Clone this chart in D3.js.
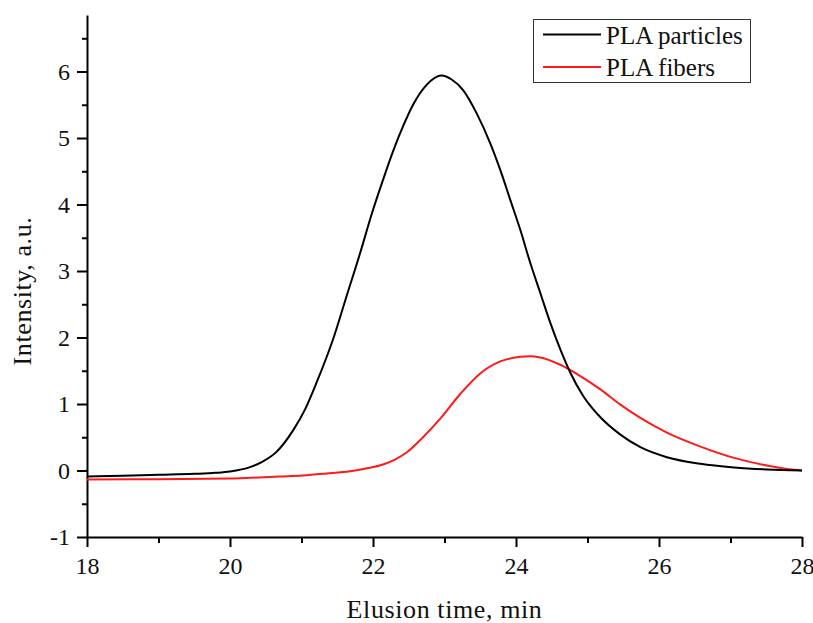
<!DOCTYPE html>
<html>
<head>
<meta charset="utf-8">
<script src="https://cdn.jsdelivr.net/npm/d3@7"></script>
<style>
  body { margin: 0; background: #fff; }
  text { font-family: "Liberation Serif", "Times New Roman", serif; fill: #111; }
</style>
</head>
<body>
<div class="main-graph"></div>
<script>
// data
var particlesTime = [18, 18.5, 19, 19.5, 19.8, 20.0, 20.28, 20.45, 20.65, 20.88, 21.05, 21.21, 21.45, 21.63, 21.82, 21.98, 22.14, 22.28, 22.43, 22.56, 22.75, 22.96, 23.1, 23.26, 23.45, 23.64, 23.78, 23.92, 24.06, 24.2, 24.34, 24.48, 24.62, 24.76, 24.94, 25.18, 25.46, 25.74, 26.11, 26.58, 27.05, 27.51, 28];
var particlesInt  = [-0.09, -0.08, -0.065, -0.05, -0.035, -0.015, 0.05, 0.13, 0.28, 0.6, 0.92, 1.32, 2.0, 2.62, 3.27, 3.85, 4.37, 4.8, 5.2, 5.5, 5.8, 5.94, 5.88, 5.72, 5.37, 4.92, 4.52, 4.07, 3.62, 3.12, 2.67, 2.22, 1.82, 1.47, 1.12, 0.8, 0.54, 0.35, 0.2, 0.1, 0.045, 0.015, 0.0];

var fibersTime = [18, 19, 20, 20.28, 20.7, 21.02, 21.35, 21.68, 21.9, 22.14, 22.3, 22.47, 22.7, 22.94, 23.22, 23.5, 23.78, 24.06, 24.2, 24.34, 24.62, 24.9, 25.18, 25.46, 25.74, 26.11, 26.58, 27.05, 27.51, 27.89, 28];
var fibersInt  = [-0.135, -0.13, -0.12, -0.11, -0.09, -0.075, -0.045, -0.01, 0.03, 0.09, 0.16, 0.27, 0.5, 0.78, 1.15, 1.46, 1.64, 1.71, 1.72, 1.70, 1.59, 1.42, 1.22, 0.99, 0.79, 0.57, 0.36, 0.19, 0.075, 0.01, 0.0];

var xTicks = [18, 20, 22, 24, 26, 28];
var yTicks = [-1, 0, 1, 2, 3, 4, 5, 6];
var seriesNames = ["PLA particles", "PLA fibers"];
var seriesColors = ["#000000", "#ff1a1a"];

var margin = {top: 15, right: 11, bottom: 86, left: 87},
    width = 813 - margin.left - margin.right,
    height = 623 - margin.top - margin.bottom;

var svg = d3.select(".main-graph")
            .append("svg")
            .attr("width", 813)
            .attr("height", 623)
            .append("g")
            .attr("transform", "translate(" + margin.left + "," + margin.top + ")");

var x = d3.scaleLinear().domain([18, 28]).range([0, width]);
var y = d3.scaleLinear().domain([-1, 6.85]).range([height, 0]);

// minor ticks
svg.append("g")
   .attr("transform", "translate(0," + height + ")")
   .call(d3.axisBottom(x).tickValues(d3.range(19, 28, 2)).tickSize(6).tickSizeOuter(0).tickFormat(""))
   .call(g => g.select(".domain").remove());
svg.append("g")
   .call(d3.axisLeft(y).tickValues(d3.range(-0.5, 6.6, 1)).tickSize(5).tickSizeOuter(0).tickFormat(""))
   .call(g => g.select(".domain").remove());

// X axis
svg.append("g")
   .attr("transform", "translate(0," + height + ")")
   .call(d3.axisBottom(x).tickValues(xTicks).tickSize(10).tickSizeOuter(0).tickPadding(10).tickFormat(d => String(d)));

// Y axis (plain hyphen for -1, like the original)
svg.append("g")
   .call(d3.axisLeft(y).tickValues(yTicks).tickSize(10).tickSizeOuter(0).tickPadding(7).tickFormat(d => String(d)));

svg.selectAll(".tick line, .domain").attr("stroke", "#000").attr("stroke-width", 2);
svg.selectAll(".tick text").style("font-size", "24px").attr("fill", "#111");

// axis titles
svg.append("text")
   .attr("text-anchor", "middle")
   .style("font-size", "26px")
   .style("letter-spacing", "0.6px")
   .attr("x", width / 2)
   .attr("y", height + 81)
   .text("Elusion time, min");

svg.append("text")
   .attr("text-anchor", "middle")
   .style("font-size", "26px")
   .style("letter-spacing", "0.6px")
   .attr("transform", "translate(" + (31 - margin.left) + "," + (291 - margin.top) + ")rotate(-90)")
   .text("Intensity, a.u.");

var line = d3.line()
             .x(d => x(d[0]))
             .y(d => y(d[1]))
             .curve(d3.curveMonotoneX);

var series = [
  d3.zip(particlesTime, particlesInt),
  d3.zip(fibersTime, fibersInt)
];

// fibers first, particles on top
[1, 0].forEach(function(i) {
  svg.append("path")
     .attr("d", line(series[i]))
     .attr("fill", "none")
     .attr("stroke", seriesColors[i])
     .attr("stroke-width", 2);
});

// legend
var legend = svg.append("g")
   .attr("transform", "translate(" + (533 - margin.left) + "," + (19 - margin.top) + ")");
legend.append("rect")
   .attr("x", 0.5).attr("y", 0.5)
   .attr("width", 217).attr("height", 63)
   .attr("fill", "#fff")
   .attr("stroke", "#333")
   .attr("stroke-width", 1);
seriesNames.forEach(function(name, i) {
  legend.append("line")
     .attr("x1", 10).attr("x2", 68)
     .attr("y1", 15.5 + i * 32.4).attr("y2", 15.5 + i * 32.4)
     .attr("stroke", seriesColors[i])
     .attr("stroke-width", 2);
  legend.append("text")
     .attr("x", 73)
     .attr("y", 24.5 + i * 32.5)
     .style("font-size", "25px")
     .text(name);
});
</script>
</body>
</html>
